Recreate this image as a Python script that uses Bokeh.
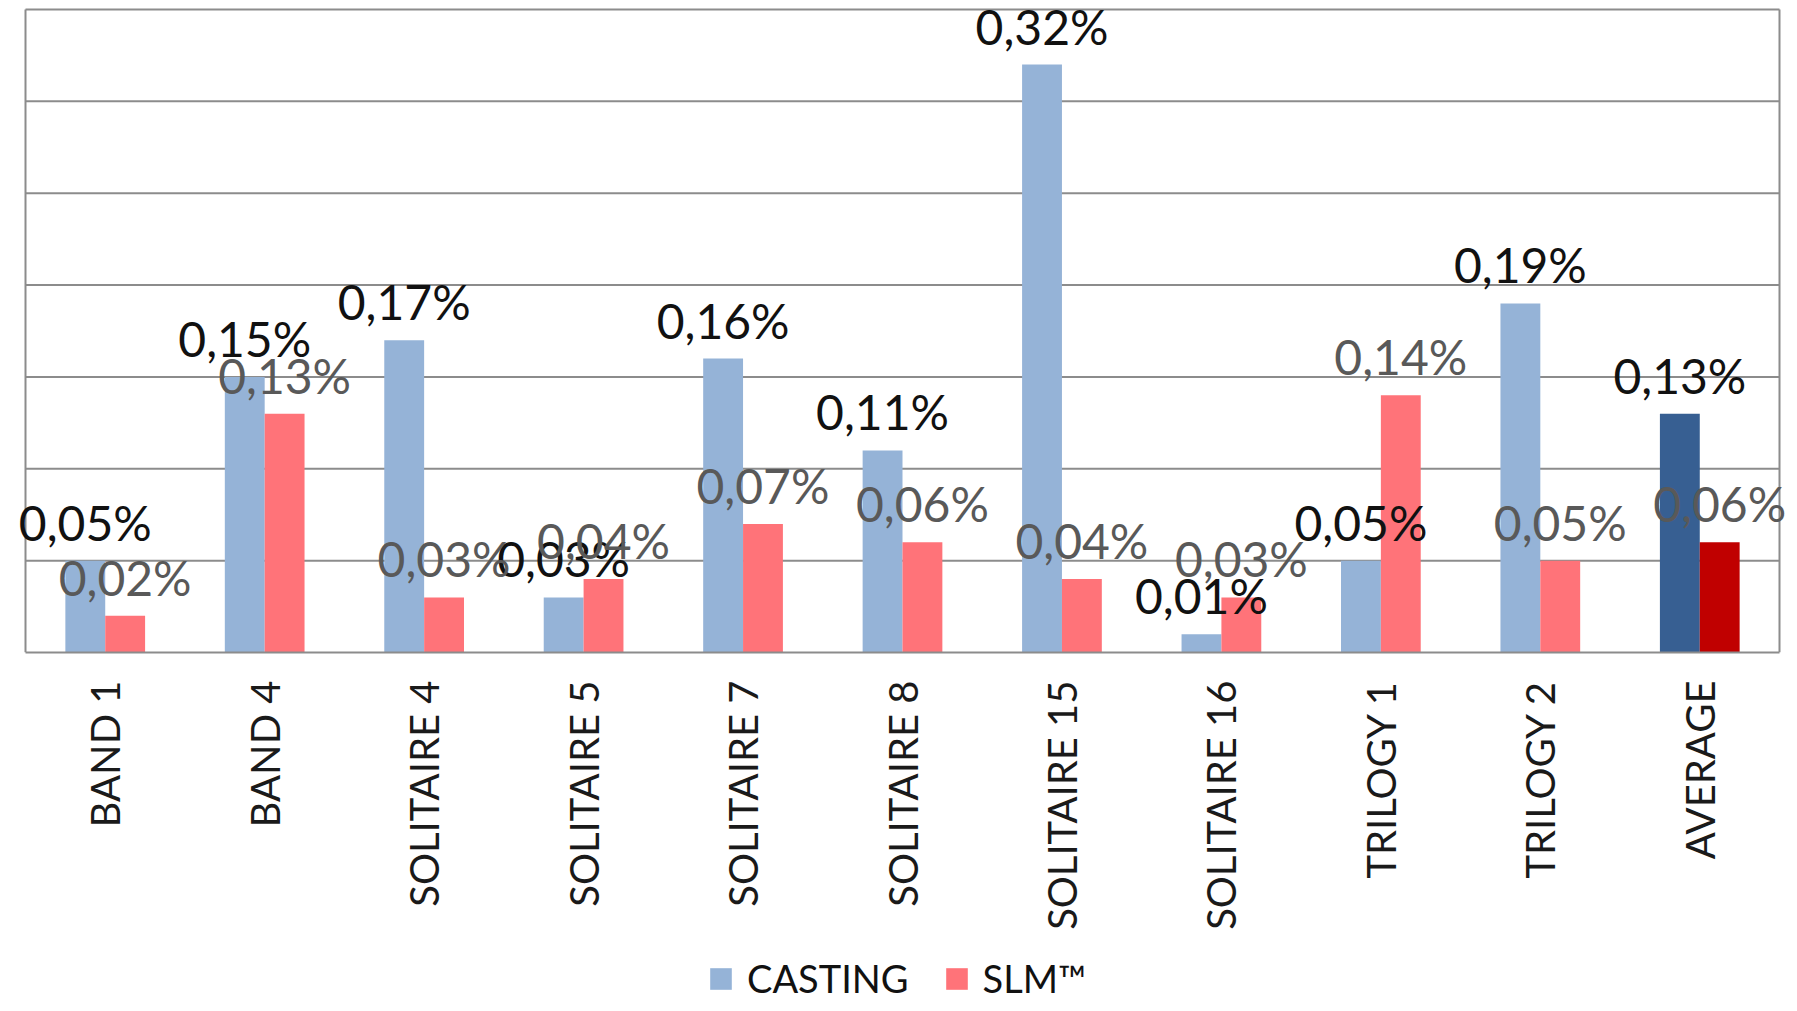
import math
from bokeh.plotting import figure
from bokeh.layouts import column
from bokeh.models import (ColumnDataSource, LabelSet, Legend, LegendItem,
                          FixedTicker, Range1d)
from bokeh.transform import dodge
from bokeh.core.properties import value
from bokeh.embed import file_html
from bokeh.resources import INLINE

# ---- data (percent) ----
categories = ["BAND 1", "BAND 4", "SOLITAIRE 4", "SOLITAIRE 5", "SOLITAIRE 7",
              "SOLITAIRE 8", "SOLITAIRE 15", "SOLITAIRE 16", "TRILOGY 1",
              "TRILOGY 2", "AVERAGE"]
casting = [0.05, 0.15, 0.17, 0.03, 0.16, 0.11, 0.32, 0.01, 0.05, 0.19, 0.13]
slm = [0.02, 0.13, 0.03, 0.04, 0.07, 0.06, 0.04, 0.03, 0.14, 0.05, 0.06]
series_names = ["CASTING", "SLM™"]
grid_levels = [0.05, 0.10, 0.15, 0.20, 0.25, 0.30, 0.35]
y_max = 0.35

FONT = "Lato"
C_CAST, C_SLM = "#95B3D7", "#FF7379"
C_CAST_AVG, C_SLM_AVG = "#375F92", "#C00000"
GRID = "#8C8C8C"

# ---- layout constants (pixels) ----
W = 1789
H_MAIN = 945
BOTTOM = 293
BOX_L, BOX_R_PAD, BOX_TOP = 25, 10, 9
n = len(categories)
cat_w = (W - BOX_L - BOX_R_PAD) / n
frame_h = H_MAIN - BOTTOM


def fmt(v):
    return ("%.2f%%" % v).replace(".", ",")


xc = [i + 0.5 for i in range(n)]
src = ColumnDataSource(dict(
    xc=xc,
    cat=categories,
    casting=casting,
    slm=slm,
    cast_lbl=[fmt(v) for v in casting],
    slm_lbl=[fmt(v) for v in slm],
    cast_col=[C_CAST_AVG if c == "AVERAGE" else C_CAST for c in categories],
    slm_col=[C_SLM_AVG if c == "AVERAGE" else C_SLM for c in categories],
))

p = figure(x_range=Range1d(-BOX_L / cat_w, n + BOX_R_PAD / cat_w),
           y_range=Range1d(0, y_max * frame_h / (frame_h - BOX_TOP)),
           width=W, height=H_MAIN, output_backend="svg",
           toolbar_location=None, y_axis_location=None,
           min_border_left=0, min_border_right=0,
           min_border_top=0, min_border_bottom=BOTTOM)
p.background_fill_color = "white"
p.border_fill_color = "white"
p.outline_line_color = None
p.xgrid.visible = False
p.ygrid.visible = False

# gridlines and plot-area box
gsrc = ColumnDataSource(dict(y=grid_levels))
p.segment(x0=0, x1=n, y0="y", y1="y", source=gsrc,
          line_color=GRID, line_width=2)
p.segment(x0=[0, n], x1=[0, n], y0=[0, 0], y1=[y_max, y_max],
          line_color=GRID, line_width=2)

r_cast = p.vbar(x=dodge("xc", -0.125), top="casting", width=0.25,
                source=src, fill_color="cast_col", line_color=None)
r_slm = p.vbar(x=dodge("xc", 0.125), top="slm", width=0.25,
               source=src, fill_color="slm_col", line_color=None)

ax = p.xaxis[0]
ax.ticker = FixedTicker(ticks=xc)
ax.major_label_overrides = {x: c for x, c in zip(xc, categories)}
ax.bounds = (0, n)
ax.major_label_orientation = math.pi / 2
ax.major_label_text_font = FONT
ax.major_label_text_font_size = "40px"
ax.major_label_text_color = "#1a1a1a"
ax.major_label_standoff = 28
ax.major_tick_in = 0
ax.major_tick_out = 0
ax.minor_tick_in = 0
ax.minor_tick_out = 0
ax.axis_line_color = GRID
ax.axis_line_width = 2

lab_cast = LabelSet(x=dodge("xc", -0.125), y="casting",
                    text="cast_lbl", source=src, text_align="center",
                    text_baseline="alphabetic", y_offset=20,
                    text_font=value(FONT), text_font_size="48px",
                    text_color="#111111")
lab_slm = LabelSet(x=dodge("xc", 0.125), y="slm",
                   text="slm_lbl", source=src, text_align="center",
                   text_baseline="alphabetic", y_offset=20,
                   text_font=value(FONT), text_font_size="48px",
                   text_color="#595959")
p.add_layout(lab_cast)
p.add_layout(lab_slm)

# ---- legend strip below the chart ----
lf = figure(width=W, height=50, output_backend="svg", toolbar_location=None,
            x_range=Range1d(0, 1), y_range=Range1d(0, 1),
            x_axis_location=None, y_axis_location=None,
            min_border_left=0, min_border_right=0, min_border_top=0,
            min_border_bottom=0)
lf.outline_line_color = None
lf.xgrid.visible = False
lf.ygrid.visible = False
# hidden copies of the two series, only used to draw the legend swatches
lr1 = lf.vbar(x="casting", top="casting", width=0.01, source=src,
              fill_color=C_CAST, line_color=None, visible=False)
lr2 = lf.vbar(x="slm", top="slm", width=0.01, source=src,
              fill_color=C_SLM, line_color=None, visible=False)
legend = Legend(items=[LegendItem(label=series_names[0], renderers=[lr1]),
                       LegendItem(label=series_names[1], renderers=[lr2])],
                orientation="horizontal", location=(707, -6),
                label_text_font=FONT, label_text_font_size="38px",
                label_text_color="#111111",
                label_height=27,
                glyph_width=27, glyph_height=27, label_standoff=13, spacing=34,
                padding=0, margin=0, border_line_color=None,
                background_fill_alpha=0)
lf.add_layout(legend, "center")

layout = column(p, lf, spacing=0)
open("out.html", "w").write(file_html(layout, INLINE))
